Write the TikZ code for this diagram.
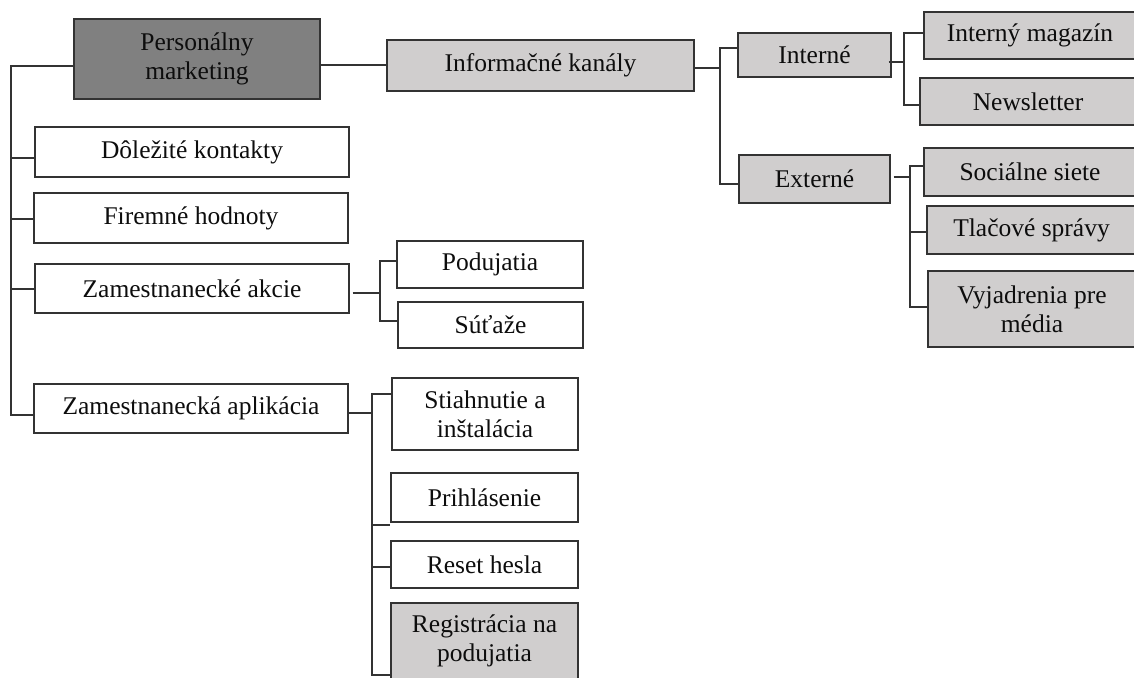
\documentclass[tikz,border=0pt]{standalone}
\usepackage{fontspec}
\setmainfont{Liberation Serif}
\definecolor{darkfill}{HTML}{808080}
\definecolor{lightfill}{HTML}{D0CECE}
\definecolor{edge}{HTML}{333333}
\begin{document}
\begin{tikzpicture}[x=1pt,y=-1pt,
  box/.style={draw=edge, line width=1.2pt, rectangle, inner sep=0pt, align=center,
    font=\fontsize{25.5}{29}\selectfont, text=black!95},
  dark/.style={box, fill=darkfill},
  light/.style={box, fill=lightfill},
  plain/.style={box, fill=white},
  link/.style={draw=edge, line width=1.2pt}]
\useasboundingbox (0,0) rectangle (1134,677);
\fill[white] (0,0) rectangle (1134,677);
\clip (0,0) rectangle (1134,677);

% root
\node[dark, minimum width=246pt, minimum height=80pt] (pm) at (197,59) {Personálny\\marketing};

% information channels branch
\node[light, minimum width=307pt, minimum height=51pt] (ik) at (540.5,65.5) {Informačné kanály};
\node[light, minimum width=153pt, minimum height=44pt] (int) at (814.5,55) {Interné};
\node[light, minimum width=151pt, minimum height=48pt] (ext) at (814.5,179) {Externé};
\node[light, minimum width=212pt, minimum height=47pt] (im) at (1030,35.5) {Interný magazín};
\node[light, minimum width=216pt, minimum height=47pt] (nl) at (1028,101.5) {Newsletter};
\node[light, minimum width=212pt, minimum height=48pt] (ss) at (1030,172) {Sociálne siete};
\node[light, minimum width=209pt, minimum height=48pt] (ts) at (1031.5,230) {Tlačové správy};
\node[light, minimum width=208pt, minimum height=76pt] (vm) at (1032,309) {Vyjadrenia pre\\média};

% left column
\node[plain, minimum width=314pt, minimum height=50pt] (dk) at (192,152) {Dôležité kontakty};
\node[plain, minimum width=314pt, minimum height=50pt] (fh) at (191,218) {Firemné hodnoty};
\node[plain, minimum width=314pt, minimum height=49pt] (za) at (192,288.5) {Zamestnanecké akcie};
\node[plain, minimum width=314pt, minimum height=49pt] (zap) at (191,408.5) {Zamestnanecká aplikácia};

% employee events
\node[plain, minimum width=186pt, minimum height=47pt] (pod) at (490,264.5) {Podujatia};
\node[plain, minimum width=185pt, minimum height=46pt] (sut) at (490.5,325) {Súťaže};

% employee app
\node[plain, minimum width=186pt, minimum height=72pt] (sti) at (485,414) {Stiahnutie a\\inštalácia};
\node[plain, minimum width=187pt, minimum height=49pt] (pri) at (484.5,497.5) {Prihlásenie};
\node[plain, minimum width=187pt, minimum height=47pt] (res) at (484.5,564.5) {Reset hesla};
\node[light, minimum width=187pt, minimum height=76pt] (reg) at (484.5,641) {Registrácia na\\podujatia};

% bus coordinates
\coordinate (busL) at (11,0);
\coordinate (busIK) at (720,0);
\coordinate (busInt) at (904,0);
\coordinate (busExt) at (910,0);
\coordinate (busZA) at (380,0);
\coordinate (busZAP) at (372,0);

% root connectors
\draw[link] (pm.west |- 0,66) -| (busL |- 0,415) -- (zap.west |- 0,415);
\draw[link] (busL |- 0,158) -- (dk.west |- 0,158);
\draw[link] (busL |- 0,219) -- (fh.west |- 0,219);
\draw[link] (busL |- 0,289) -- (za.west |- 0,289);
\draw[link] (pm.east |- 0,65) -- (ik.west |- 0,65);

% information channels
\draw[link] (ik.east |- 0,68) -- (busIK |- 0,68);
\draw[link] (int.west |- 0,48) -| (busIK |- 0,184) -- (ext.west |- 0,184);
\draw[link] ([xshift=-3pt]int.east |- 0,62) -- (busInt |- 0,62);
\draw[link] (im.west |- 0,33) -| (busInt |- 0,105) -- (nl.west |- 0,105);
\draw[link] ([xshift=3pt]ext.east |- 0,177) -- (busExt |- 0,177);
\draw[link] (ss.west |- 0,166) -| (busExt |- 0,307) -- (vm.west |- 0,307);
\draw[link] (busExt |- 0,232) -- (ts.west |- 0,232);

% employee events
\draw[link] ([xshift=3pt]za.east |- 0,293) -- (busZA |- 0,293);
\draw[link] (pod.west |- 0,261) -| (busZA |- 0,321) -- (sut.west |- 0,321);

% employee app
\draw[link] (zap.east |- 0,413) -- (busZAP |- 0,413);
\draw[link] (sti.west |- 0,394) -| (busZAP |- 0,675) -- (reg.west |- 0,675);
\draw[link] (busZAP |- 0,525) -- (pri.west |- 0,525);
\draw[link] (busZAP |- 0,567) -- (res.west |- 0,567);
\end{tikzpicture}
\end{document}
